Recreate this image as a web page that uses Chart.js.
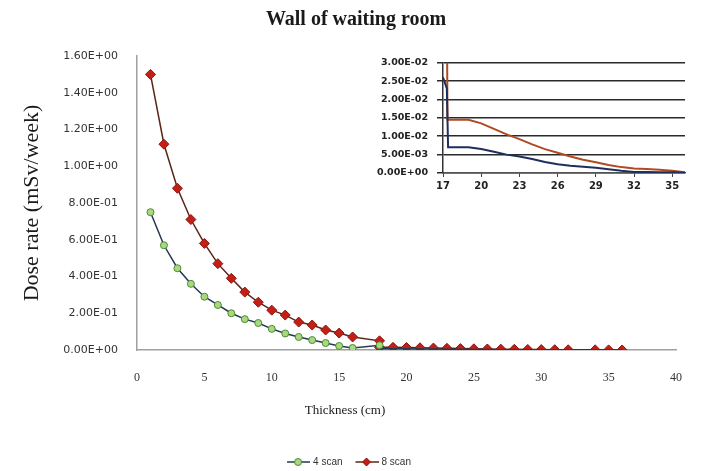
<!DOCTYPE html>
<html><head><meta charset="utf-8">
<script src="https://cdn.jsdelivr.net/npm/chart.js@4/dist/chart.umd.min.js"></script>
<style>
html,body{margin:0;padding:0;background:#fff;}
#wrap{position:relative;width:703px;height:471px;overflow:hidden;}
#main{position:absolute;left:0;top:0;}
#inset{position:absolute;left:360px;top:48px;}
</style></head><body>
<div id="wrap"><canvas id="main" width="703" height="477"></canvas><canvas id="inset" width="335" height="150"></canvas></div>
<script>
const chartTitle = 'Wall of waiting room';
const xAxisTitle = 'Thickness (cm)';
const yAxisTitle = 'Dose rate (mSv/week)';
const seriesNames = ['4 scan', '8 scan'];

const mainXTicks = [0, 5, 10, 15, 20, 25, 30, 35, 40];
const mainYTicks = [0, 0.2, 0.4, 0.6, 0.8, 1.0, 1.2, 1.4, 1.6];

const thickness4 = [1,2,3,4,5,6,7,8,9,10,11,12,13,14,15,16,18,18,19,20,21,22,23,24,25,26,27,28,29,30,31,32,33,34,35,36];
const dose4 = [0.75,0.57,0.445,0.36,0.29,0.245,0.20,0.168,0.147,0.115,0.09,0.071,0.054,0.038,0.022,0.011,
  0.026,0.007,0.007,0.0065,0.0058,0.005,0.0045,0.0038,0.003,0.0024,0.002,0.0017,0.0014,0.001,0.0006,0.0003,0.0003,0.0002,0.0002,0.0001];

const thickness8 = [1,2,3,4,5,6,7,8,9,10,11,12,13,14,15,16,18,18,19,20,21,22,23,24,25,26,27,28,29,30,31,32,34,35,36];
const dose8 = [1.50,1.12,0.88,0.71,0.58,0.47,0.39,0.315,0.26,0.217,0.19,0.152,0.136,0.109,0.092,0.071,
  0.05,0.0145,0.0145,0.0135,0.012,0.0105,0.0092,0.0078,0.0065,0.0055,0.0045,0.0036,0.0029,0.0022,0.0016,0.0012,0.0009,0.0006,0.0002];

const insetXTicks = [17, 20, 23, 26, 29, 32, 35];
const insetYTicks = [0, 0.005, 0.01, 0.015, 0.02, 0.025, 0.03];
const insetThickness4 = [17,17.3,17.4,19,20,21,22,23,24,25,26,27,28,29,30,31,32,33,34,35,36];
const insetDose4 = [0.026,0.023,0.007,0.007,0.0065,0.0058,0.005,0.0045,0.0038,0.003,0.0024,0.002,0.0017,0.0014,0.001,0.0006,0.0003,0.0003,0.0002,0.0002,0.0001];
const insetThickness8 = [17.3,17.35,19,20,21,22,23,24,25,26,27,28,29,30,31,32,33,34,35,36];
const insetDose8 = [0.05,0.0145,0.0145,0.0135,0.012,0.0105,0.0092,0.0078,0.0065,0.0055,0.0045,0.0036,0.0029,0.0022,0.0016,0.0012,0.0011,0.0009,0.0006,0.0002];

function sci(v) {
  if (Math.abs(v) < 1e-12) return '0.00E+00';
  let e = Math.floor(Math.log10(Math.abs(v)) + 1e-9);
  let m = v / Math.pow(10, e);
  if (Math.abs(m) >= 9.995) { m /= 10; e++; }
  return m.toFixed(2) + 'E' + (e < 0 ? '-' : '+') + String(Math.abs(e)).padStart(2, '0');
}
function pts(xs, ys) { return xs.map((x, i) => ({x: x, y: ys[i]})); }

const GREEN_LINE = '#24384f', GREEN_FILL = '#a8d880', GREEN_EDGE = '#4d8a34';
const RED_LINE = '#5a2418', RED_FILL = '#c41e16', RED_EDGE = '#8a1710';

function legendImg(kind) {
  const c = document.createElement('canvas');
  c.width = 34; c.height = 12;
  const g = c.getContext('2d');
  g.strokeStyle = kind === 'g' ? GREEN_LINE : RED_LINE;
  g.lineWidth = 1.5;
  g.beginPath(); g.moveTo(11, 6); g.lineTo(34, 6); g.stroke();
  if (kind === 'g') {
    g.fillStyle = GREEN_FILL; g.strokeStyle = GREEN_EDGE; g.lineWidth = 1;
    g.beginPath(); g.arc(22, 6, 3.5, 0, Math.PI * 2); g.fill(); g.stroke();
  } else {
    g.fillStyle = RED_FILL; g.strokeStyle = RED_EDGE; g.lineWidth = 1;
    g.beginPath(); g.moveTo(22, 2); g.lineTo(26, 6); g.lineTo(22, 10); g.lineTo(18, 6); g.closePath(); g.fill(); g.stroke();
  }
  return c;
}

const textPlugin = {
  id: 'extraText',
  afterDraw(chart) {
    const ctx = chart.ctx;
    ctx.save();
    ctx.fillStyle = '#1a1a1a';
    ctx.textAlign = 'center';
    ctx.textBaseline = 'middle';
    ctx.font = 'bold 20px "Liberation Serif", serif';
    ctx.fillText(chartTitle, 356, 20);
    ctx.font = '13px "Liberation Serif", serif';
    ctx.fillText(xAxisTitle, 345, 411);
    ctx.restore();
  }
};

new Chart(document.getElementById('main'), {
  type: 'line',
  data: {
    datasets: [
      {
        label: seriesNames[0],
        data: pts(thickness4, dose4),
        borderColor: GREEN_LINE, borderWidth: 1.5,
        pointStyle: 'circle',
        pointRadius: c => c.dataIndex < 17 ? 3.5 : 0,
        pointBackgroundColor: GREEN_FILL, pointBorderColor: GREEN_EDGE, pointBorderWidth: 1,
        tension: 0
      },
      {
        label: seriesNames[1],
        data: pts(thickness8, dose8),
        borderColor: RED_LINE, borderWidth: 1.5,
        pointStyle: 'rectRot',
        pointRadius: 5,
        pointBackgroundColor: RED_FILL, pointBorderColor: RED_EDGE, pointBorderWidth: 1,
        tension: 0
      }
    ]
  },
  options: {
    responsive: false,
    animation: false,
    events: [],
    layout: { padding: { left: 0, right: 14, top: 56, bottom: 0 } },
    plugins: {
      title: { display: false },
      tooltip: { enabled: false },
      legend: {
        position: 'bottom',
        labels: {
          usePointStyle: true,
          pointStyleWidth: 30,
          padding: 4,
          font: { family: '"Liberation Sans", sans-serif', size: 10 },
          color: '#333',
          generateLabels: chart => chart.data.datasets.map((ds, i) => ({
            text: ds.label,
            pointStyle: legendImg(i === 0 ? 'g' : 'r'),
            fillStyle: 'transparent', strokeStyle: 'transparent', lineWidth: 0,
            fontColor: '#333', hidden: false, datasetIndex: i
          }))
        }
      }
    },
    scales: {
      x: {
        type: 'linear', min: 0, max: 40,
        afterBuildTicks: s => { s.ticks = mainXTicks.map(v => ({value: v})); },
        afterFit: s => { s.height = 103; },
        grid: { display: false, drawTicks: false },
        border: { display: true, color: '#a0a0a0', width: 1.5 },
        ticks: { padding: 21, color: '#333', font: { family: '"Liberation Serif", serif', size: 12 } },
        title: { display: false }
      },
      y: {
        type: 'linear', min: 0, max: 1.6,
        afterBuildTicks: s => { s.ticks = mainYTicks.map(v => ({value: v})); },
        afterFit: s => { s.width = 137; },
        grid: { display: false, drawTicks: false },
        border: { display: true, color: '#a0a0a0', width: 1.5 },
        ticks: { padding: 19, color: '#333', callback: v => sci(v), font: { family: '"DejaVu Sans", sans-serif', size: 11 } },
        title: { display: true, text: yAxisTitle, color: '#1a1a1a', padding: { top: 19 }, font: { family: '"Liberation Serif", serif', size: 22 } }
      }
    }
  },
  plugins: [textPlugin]
});

new Chart(document.getElementById('inset'), {
  type: 'line',
  data: {
    datasets: [
      { label: seriesNames[0], data: pts(insetThickness4, insetDose4), borderColor: '#1f2f5c', borderWidth: 2, pointRadius: 0, tension: 0 },
      { label: seriesNames[1], data: pts(insetThickness8, insetDose8), borderColor: '#b04a22', borderWidth: 2, pointRadius: 0, tension: 0 }
    ]
  },
  options: {
    responsive: false,
    animation: false,
    events: [],
    layout: { padding: { left: 0, right: 10, top: 13, bottom: 0 } },
    plugins: { legend: { display: false }, tooltip: { enabled: false }, title: { display: false } },
    scales: {
      x: {
        type: 'linear', min: 17, max: 36,
        afterBuildTicks: s => { s.ticks = insetXTicks.map(v => ({value: v})); },
        afterFit: s => { s.height = 25; },
        grid: { drawOnChartArea: false, drawTicks: true, tickLength: 4, color: '#444', lineWidth: 1 },
        border: { display: true, color: '#555', width: 1.5 },
        ticks: { padding: 3, color: '#222', maxRotation: 0, autoSkip: false, font: { family: '"DejaVu Sans", sans-serif', size: 10, weight: 'bold' } }
      },
      y: {
        type: 'linear', min: 0, max: 0.03,
        afterBuildTicks: s => { s.ticks = insetYTicks.map(v => ({value: v})); },
        afterFit: s => { s.width = 83; },
        grid: { drawTicks: true, tickLength: 6, color: '#2a2a2a', lineWidth: 1.5 },
        border: { display: true, color: '#333', width: 1.5 },
        ticks: { padding: 9, color: '#222', callback: v => sci(v), font: { family: '"DejaVu Sans", sans-serif', size: 9.5, weight: 'bold' } }
      }
    }
  }
});
</script>
</body></html>
